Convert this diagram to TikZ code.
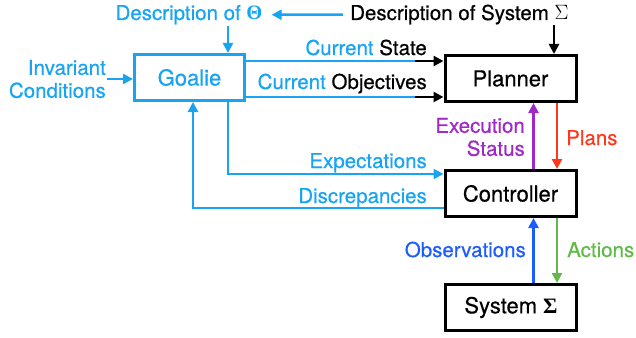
\documentclass[tikz,border=0pt]{standalone}
\usepackage[no-math]{fontspec}
\setmainfont{TeX Gyre Heros}[FakeBold=0.5]
\newfontfamily\grkb{Liberation Serif}[UprightFont=*-Bold]
\usetikzlibrary{arrows.meta,calc}
\definecolor{sky}{RGB}{24,164,242}
\definecolor{purp}{RGB}{158,40,200}
\definecolor{redp}{RGB}{255,56,28}
\definecolor{grn}{RGB}{96,186,72}
\definecolor{dblue}{RGB}{28,92,255}
\begin{document}
\begin{tikzpicture}[x=1pt,y=-1pt,
  box/.style={draw,line width=3pt,minimum width=131pt,minimum height=46pt,inner sep=0pt,font=\fontsize{22}{24}\selectfont},
  lbl/.style={font=\fontsize{20.5}{23}\selectfont,inner sep=0pt},
  conn/.style={line width=2.5pt},
  tip/.style={-{Triangle[length=10pt,width=10pt]}}]
\useasboundingbox (0,0) rectangle (636,337);
% boxes
\node[box,draw=sky,text=sky,minimum width=110pt] (goalie) at (189.5,77.5) {Goalie};
\node[box] (planner) at (510.5,78.5) {Planner};
\node[box] (ctrl) at (510.5,193.5) {Controller};
\node[box] (sys) at (511,307.5) {System {\grkb Σ}};
% labels
\node[lbl,text=sky,anchor=base] (dtheta) at (189,20) {Description of {\grkb Θ}};
\node[lbl,anchor=base west] (dsys) at (350,20) {Description of System $\Sigma$};
\node[lbl,text=sky,align=right,anchor=east] (inv) at (106,79) {Invariant\\Conditions};
\node[lbl,anchor=base east] (lcs) at (427,55) {\textcolor{sky}{Current} State};
\node[lbl,anchor=base east] (lco) at (427,89) {\textcolor{sky}{Current} Objectives};
\node[lbl,text=sky,anchor=base east] (lexp) at (427,168) {Expectations};
\node[lbl,text=sky,anchor=base east] (ldis) at (427,203) {Discrepancies};
\node[lbl,text=purp,align=right,anchor=east] (lexe) at (525,137) {Execution\\Status};
\node[lbl,text=redp,anchor=base west] (lpl) at (566,145) {Plans};
\node[lbl,text=dblue,anchor=base east] (lobs) at (526,257) {Observations};
\node[lbl,text=grn,anchor=base west] (lact) at (567,257) {Actions};
% helper coordinates
\coordinate (gin) at (228,26);
\coordinate (sin) at (554,25);
\coordinate (mid) at (415,0);
\coordinate (dx) at (193,0);
\coordinate (upx) at (533.5,0);
\coordinate (dnx) at (557,0);
\coordinate (cs) at ($(planner.north west)+(0,7)$);
\coordinate (co) at ($(planner.south west)+(0,-6)$);
\coordinate (ex) at ($(ctrl.north west)+(0,5)$);
\coordinate (dc) at ($(ctrl.south west)+(0,-10)$);
% connectors
\draw[conn,sky,tip] ([xshift=-7pt]dsys.west) -- ([xshift=9pt]dtheta.east);
\draw[conn,sky,tip] (gin) -- (gin |- goalie.north);
\draw[conn,tip] (sin) -- (sin |- planner.north);
\draw[conn,sky,tip] ([xshift=1pt]inv.east) -- (goalie.west |- inv.east);
\draw[conn,sky] (goalie.east |- cs) -- (cs -| mid);
\draw[conn,tip] (cs -| mid) -- (cs);
\draw[conn,sky] (goalie.east |- co) -- (co -| mid);
\draw[conn,tip] (co -| mid) -- (co);
\draw[conn,sky,tip] (gin |- goalie.south) -- (gin |- ex) -- (ex);
\draw[conn,sky,tip] (dc) -- (dc -| dx) -- (dx |- goalie.south);
\draw[conn,purp,tip] (upx |- ctrl.north) -- (upx |- planner.south);
\draw[conn,redp,tip] (dnx |- planner.south) -- (dnx |- ctrl.north);
\draw[conn,dblue,tip] (upx |- sys.north) -- (upx |- ctrl.south);
\draw[conn,grn,tip] (dnx |- ctrl.south) -- (dnx |- sys.north);
\end{tikzpicture}
\end{document}
